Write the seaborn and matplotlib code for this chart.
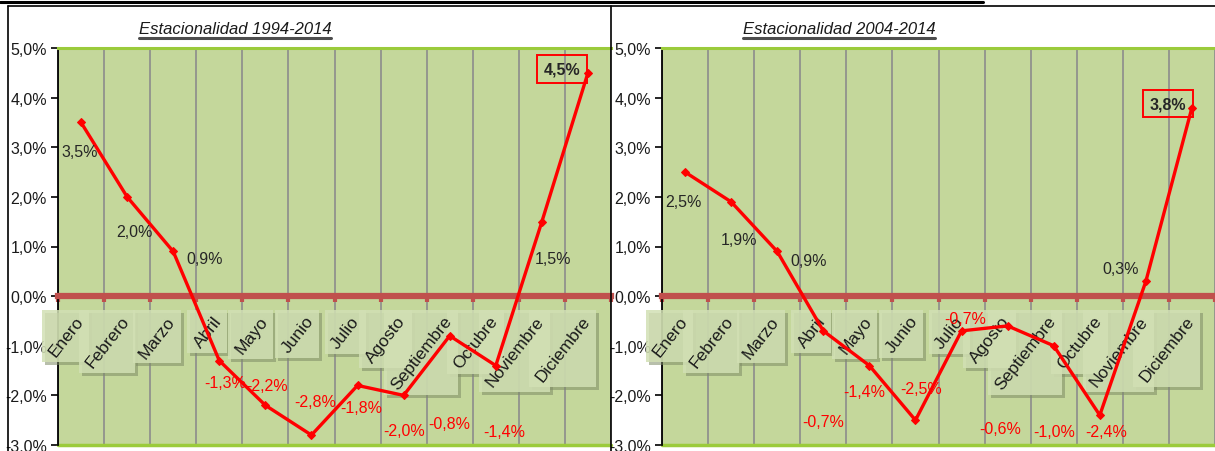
import numpy as np
import pandas as pd
import matplotlib
matplotlib.use("Agg")
import matplotlib.pyplot as plt
import seaborn as sns
from matplotlib.patches import Rectangle
from matplotlib.lines import Line2D

# ---------------- data ----------------
meses = ["Enero", "Febrero", "Marzo", "Abril", "Mayo", "Junio", "Julio",
         "Agosto", "Septiembre", "Octubre", "Noviembre", "Diciembre"]
est_1994_2014 = [3.5, 2.0, 0.9, -1.3, -2.2, -2.8, -1.8, -2.0, -0.8, -1.4, 1.5, 4.5]
est_2004_2014 = [2.5, 1.9, 0.9, -0.7, -1.4, -2.5, -0.7, -0.6, -1.0, -2.4, 0.3, 3.8]
titulos = ["Estacionalidad 1994-2014", "Estacionalidad 2004-2014"]
y_ticks = [-3, -2, -1, 0, 1, 2, 3, 4, 5]

# label offsets (pixels) for the data labels
off_izq = [(-1, -29), (7, -35), (31, -7), (6, -22), (2, 20), (4, 34), (4, -22),
           (0, -35), (0, -88), (8, -66), (11, -37), (-26, 4)]
off_der = [(-2, -29), (8, -38), (31, -9), (0, -91), (-5, -26), (6, 32), (4, 12),
           (-7, -103), (0, -86), (6, -16), (-25, 13), (-24, 4)]

sns.set_style("white")
plt.rcParams["font.family"] = ["Liberation Sans", "DejaVu Sans"]

W, H = 1215, 452
fig = plt.figure(figsize=(W / 100, H / 100), dpi=100)
fig.patch.set_facecolor("white")

BG = "#C4D79B"
GREEN = "#9BCB3B"
ZERO = "#C0504D"
GRID = "#8C8C8C"

def fmt(v):
    return f"{v:.1f}".replace(".", ",") + "%"

titles_txt = []
cat_texts = []
for k, (vals, offs, titulo, left_px) in enumerate(
        [(est_1994_2014, off_izq, titulos[0], 58), (est_2004_2014, off_der, titulos[1], 662)]):
    ax = fig.add_axes([left_px / W, 6 / H, 553 / W, 397 / H])
    ax.set_facecolor(BG)
    df = pd.DataFrame({"pos": np.arange(len(meses)), "mes": meses, "valor": vals})
    sns.lineplot(data=df, x="pos", y="valor", ax=ax, sort=False, color="#FF0000",
                 lw=2.4, marker="D", markersize=4, markeredgecolor="#FF0000", zorder=4)
    ax.set_xlabel("")
    ax.set_ylabel("")
    ax.set_xlim(-0.5, len(meses) - 0.5)
    ax.set_ylim(min(y_ticks), max(y_ticks))
    ax.set_yticks(y_ticks)
    ax.set_yticklabels([fmt(t) for t in y_ticks])
    ax.tick_params(axis="y", direction="out", length=5, width=1.2, color="black",
                   labelsize=11.5, pad=3, left=True, labelcolor="#1a1a1a")
    ax.set_xticks(np.arange(-0.5, len(meses), 1.0))
    ax.set_xticklabels([])
    ax.tick_params(axis="x", direction="out", length=4, width=3, color=ZERO, bottom=True)
    ax.set_axisbelow(True)
    ax.grid(axis="x", color=GRID, lw=1.2)
    ax.grid(axis="y", visible=False)
    ax.spines["left"].set_color("black")
    ax.spines["left"].set_linewidth(1.3)
    ax.spines["right"].set_visible(False)
    ax.spines["top"].set_color(GREEN)
    ax.spines["top"].set_linewidth(2.2)
    ax.spines["bottom"].set_position(("data", 0))
    ax.spines["bottom"].set_color(ZERO)
    ax.spines["bottom"].set_linewidth(4.5)
    ax.plot([0, 1], [0, 0], transform=ax.transAxes, color=GREEN, lw=2.5, clip_on=False)

    vmax = max(vals)
    for i, (v, off) in enumerate(zip(vals, offs)):
        col = "#FF0000" if v < 0 else "#262626"
        kw = {}
        if v == vmax:
            kw = dict(fontweight="bold",
                      bbox=dict(boxstyle="square,pad=0.4", fc="none", ec="#FF0000", lw=1.4))
        ax.annotate(fmt(v), xy=(i, v), xytext=off, textcoords="offset pixels",
                    ha="center", va="center", fontsize=11.5, color=col, zorder=5, **kw)

    for i, m in enumerate(meses):
        t = ax.annotate(m, xy=(i, 0), xytext=(5, -17), textcoords="offset pixels",
                        ha="right", va="top", rotation=52, fontsize=12.5,
                        color="#1a1a1a", zorder=3, annotation_clip=False)
        cat_texts.append((ax, t))

    cx = (left_px + 177) / W
    tt = fig.text(cx, 1 - 30 / H, titulo, ha="center", va="center", fontsize=12,
                  style="italic", color="#1a1a1a")
    titles_txt.append(tt)

fig.canvas.draw()
renderer = fig.canvas.get_renderer()

# shaded boxes behind the category labels
for ax, t in cat_texts:
    bb = t.get_window_extent(renderer)
    x0, y0, x1, y1 = bb.x0 - 4, bb.y0 - 3, bb.x1 + 3, bb.y1 + 3
    inv = ax.transAxes.inverted()
    (ax0, ay0), (ax1, ay1) = inv.transform([(x0, y0), (x1, y1)])
    (sx0, sy0), (sx1, sy1) = inv.transform([(x0 + 3, y0 - 3), (x1 + 3, y1 - 3)])
    ax.add_patch(Rectangle((sx0, sy0), sx1 - sx0, sy1 - sy0, transform=ax.transAxes,
                           fc="#7E8C66", ec="none", alpha=0.55, zorder=2.6, clip_on=False))
    ax.add_patch(Rectangle((ax0, ay0), ax1 - ax0, ay1 - ay0, transform=ax.transAxes,
                           fc="#D2E0B4", ec="none", alpha=0.85, zorder=2.7, clip_on=False))

# underline the titles
for tt in titles_txt:
    bb = tt.get_window_extent(renderer)
    y = (bb.y0 - 1) / H
    fig.add_artist(Line2D([bb.x0 / W, bb.x1 / W], [y, y], color="#4d4d4d", lw=2.2))

# table borders
fig.add_artist(Line2D([8 / W, 8 / W], [0, 1 - 7 / H], color="black", lw=1.2))
fig.add_artist(Line2D([611 / W, 611 / W], [0, 1 - 7 / H], color="black", lw=1.2))
fig.add_artist(Line2D([8 / W, 1], [1 - 7 / H, 1 - 7 / H], color="black", lw=1.2))
fig.add_artist(Line2D([0, 983 / W], [1 - 3 / H, 1 - 3 / H], color="black", lw=2.2))

fig.savefig("out.png", dpi=100, facecolor="white")
